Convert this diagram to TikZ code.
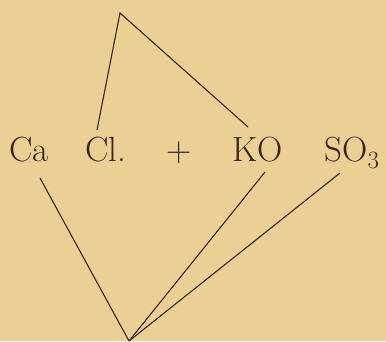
\documentclass[tikz,border=0pt]{standalone}
\definecolor{paper}{RGB}{235,208,150}
\definecolor{ink}{RGB}{55,38,22}
\begin{document}
\begin{tikzpicture}[x=1pt,y=-1pt,
  formula/.style={inner sep=0pt,anchor=base,text=ink,font=\fontsize{35}{40}\selectfont},
  bond/.style={draw=ink,line width=1.1pt}]
\fill[paper] (0,0) rectangle (386,341);
\useasboundingbox (0,0) rectangle (386,341);
\node[formula] (ca) at (29,161) {Ca};
\node[formula] (cl) at (106,161) {Cl.};
\node[formula] (plus) at (179,161) {+};
\node[formula] (ko) at (258,161) {KO};
\node[formula] (so) at (352,161) {SO$_3$};
\coordinate (top) at (120,13);
\coordinate (bottom) at (129,341);
\coordinate (clup) at (97,130);
\coordinate (koup) at (248,127);
\coordinate (cadown) at (40,178);
\coordinate (kodown) at (265,172);
\coordinate (sodown) at (340,173);
\draw[bond] (clup) -- (top) -- (koup);
\draw[bond] (cadown) -- (bottom);
\draw[bond] (kodown) -- (bottom);
\draw[bond] (bottom) -- (sodown);
\end{tikzpicture}
\end{document}
